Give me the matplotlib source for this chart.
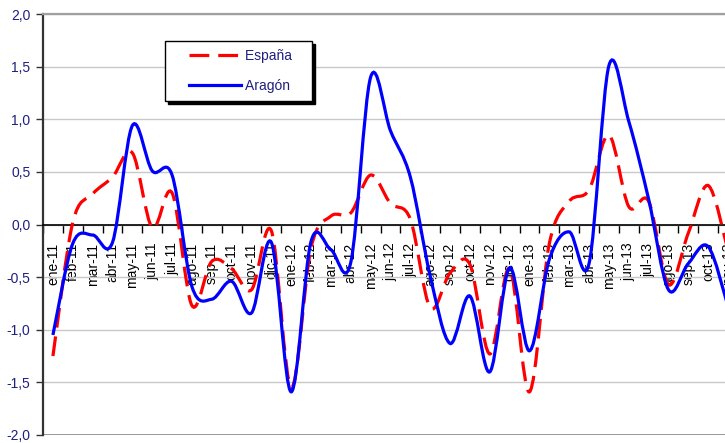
import numpy as np
import matplotlib
matplotlib.use("Agg")
import matplotlib.pyplot as plt
from matplotlib.path import Path
from matplotlib.patches import PathPatch
from matplotlib.lines import Line2D
from matplotlib.legend_handler import HandlerLine2D
from matplotlib.ticker import FuncFormatter

plt.rcParams['font.family'] = ['Liberation Sans', 'DejaVu Sans']

meses = ['ene-11', 'feb-11', 'mar-11', 'abr-11', 'may-11', 'jun-11', 'jul-11', 'ago-11',
         'sep-11', 'oct-11', 'nov-11', 'dic-11',
         'ene-12', 'feb-12', 'mar-12', 'abr-12', 'may-12', 'jun-12', 'jul-12', 'ago-12',
         'sep-12', 'oct-12', 'nov-12', 'dic-12',
         'ene-13', 'feb-13', 'mar-13', 'abr-13', 'may-13', 'jun-13', 'jul-13', 'ago-13',
         'sep-13', 'oct-13', 'nov-13']

espana = [-1.25, 0.02, 0.29, 0.45, 0.68, -0.03, 0.30, -0.77, -0.35, -0.42, -0.62, -0.06,
          -1.55, -0.22, 0.08, 0.11, 0.47, 0.20, 0.05, -0.79, -0.46, -0.38, -1.23, -0.42,
          -1.59, -0.18, 0.22, 0.33, 0.85, 0.17, 0.22, -0.57, -0.08, 0.37, -0.25]

aragon = [-1.05, -0.18, -0.10, -0.17, 0.94, 0.51, 0.47, -0.59, -0.71, -0.54, -0.84, -0.17,
          -1.59, -0.16, -0.24, -0.36, 1.40, 0.89, 0.45, -0.49, -1.13, -0.68, -1.40, -0.41,
          -1.20, -0.33, -0.07, -0.37, 1.51, 0.98, 0.24, -0.62, -0.37, -0.21, -0.78]

rojo = '#FF0000'
azul = '#0000FF'
navy = '#1F1F80'
estilo_es = (0, (6.2, 2.8))


def curva_suave(x, y):
    # linea suavizada tipo Excel (bezier por los puntos)
    p = np.column_stack([x, y]).astype(float)
    n = len(p)
    verts = [p[0]]
    codes = [Path.MOVETO]
    for i in range(n - 1):
        p0 = p[i - 1] if i > 0 else p[i]
        p3 = p[i + 2] if i + 2 < n else p[i + 1]
        c1 = p[i] + (p[i + 1] - p0) / 6
        c2 = p[i + 1] - (p3 - p[i]) / 6
        verts += [c1, c2, p[i + 1]]
        codes += [Path.CURVE4] * 3
    return Path(verts, codes)


class HandlerDesplazado(HandlerLine2D):
    def get_xdata(self, legend, xdescent, ydescent, width, height, fontsize):
        x = np.array([-xdescent + width - 37.5, -xdescent + width])
        return x, x


fig = plt.figure(figsize=(7.25, 4.43), dpi=100)
ax = fig.add_axes([43 / 725, 8 / 443, 695 / 725, 421 / 443])

x = np.arange(len(meses))
ax.add_patch(PathPatch(curva_suave(x, espana), fill=False, edgecolor=rojo, lw=2.3,
                       linestyle=estilo_es, capstyle='butt', zorder=3))
ax.add_patch(PathPatch(curva_suave(x, aragon), fill=False, edgecolor=azul, lw=2.3,
                       zorder=4))

ax.set_xlim(-0.5, len(meses) - 0.5)
ax.set_ylim(-2.0, 2.0)

ax.set_yticks(np.arange(-2.0, 2.01, 0.5))
ax.yaxis.set_major_formatter(FuncFormatter(lambda v, p: f"{v:.1f}".replace('.', ',')))
ax.tick_params(axis='y', direction='out', length=5, width=1, color='#333333',
               labelcolor=navy, labelsize=10, pad=4)
ax.yaxis.grid(True, color='#c8c8c8', lw=1)
ax.set_axisbelow(True)

ax.set_xticks(x)
ax.set_xticklabels(meses)
ax.set_xticks(np.arange(-0.5, len(meses), 1), minor=True)
ax.tick_params(axis='x', which='major', length=0, pad=13, labelcolor='black',
               labelsize=10, labelrotation=90)
ax.tick_params(axis='x', which='minor', direction='out', length=6, width=1, color='black')

ax.spines['bottom'].set_position(('data', 0))
ax.spines['bottom'].set_color('black')
ax.spines['bottom'].set_linewidth(1.2)
ax.spines['left'].set_color('#333333')
ax.spines['left'].set_linewidth(1.6)
ax.spines['top'].set_color('#a0a0a0')
ax.spines['top'].set_linewidth(1.6)
ax.spines['right'].set_visible(False)
ax.axhline(-2.0, color='#909090', lw=2, zorder=1)

handles = [Line2D([], [], color=rojo, lw=2.3, linestyle=estilo_es),
           Line2D([], [], color=azul, lw=2.3)]
leg = ax.legend(handles, ['España   ', 'Aragón   '], loc='upper left',
                bbox_to_anchor=(165 / 725, 1 - 41 / 443), bbox_transform=fig.transFigure,
                borderaxespad=0, fontsize=10, labelcolor=navy, frameon=True,
                fancybox=False, edgecolor='black', framealpha=1, borderpad=0.6,
                labelspacing=1.1, handlelength=4.9, handletextpad=0.25,
                shadow={'color': 'black', 'alpha': 1, 'ox': 2.2, 'oy': -2.2},
                handler_map={Line2D: HandlerDesplazado()})
leg.get_frame().set_linewidth(1)

fig.savefig("out.png", dpi=100)
